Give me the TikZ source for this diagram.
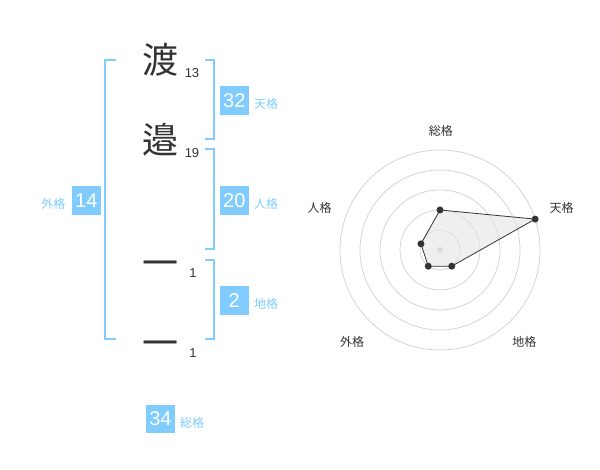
\documentclass[tikz,border=0pt]{standalone}
\usepackage{fontspec}
\usetikzlibrary{calc}
\setmainfont{Liberation Sans}
\newfontfamily\jp{Noto Sans CJK JP}
\definecolor{sky}{HTML}{80CCFF}
\definecolor{ink}{HTML}{333333}
\definecolor{ring}{HTML}{D0D0D0}
\begin{document}
\begin{tikzpicture}[x=1pt,y=-1pt,
  kanji/.style={inner sep=0pt,text=ink,font=\jp\fontsize{36}{36}\selectfont},
  stroke/.style={inner sep=0pt,text=ink,font=\fontsize{13}{13}\selectfont},
  numbox/.style={fill=sky,text=white,minimum width=28.7pt,minimum height=28.7pt,inner sep=0pt,font=\fontsize{20}{20}\selectfont},
  kaku/.style={text=sky,inner sep=0pt,font=\jp\fontsize{12}{12}\selectfont},
  brk/.style={draw=sky,line width=2pt},
  axlabel/.style={text=ink,inner sep=0pt,font=\jp\fontsize{12}{12}\selectfont},
  dot/.style={circle,fill=ink,inner sep=0pt,minimum size=7pt}]
\useasboundingbox (0,0) rectangle (600,470);
% characters
\node[kanji] (c1) at (160,60) {渡};
\node[kanji] (c2) at (160,140) {邉};
\node[kanji] (c3) at (160,269) {一};
\node[kanji] (c4) at (160,349) {一};
\node[stroke] (s1) at (192,73) {13};
\node[stroke] (s2) at (192,153) {19};
\node[stroke] (s3) at (193,273) {1};
\node[stroke] (s4) at (193,353) {1};
% brackets
\draw[brk] (116,60) -- (105,60) -- (105,339.3) -- (116,339.3);
\draw[brk] (205,60) -- (214.3,60) -- (214.3,139.3) -- (205,139.3);
\draw[brk] (205,149.3) -- (214.3,149.3) -- (214.3,249.3) -- (205,249.3);
\draw[brk] (205,260) -- (214.3,260) -- (214.3,339.3) -- (205,339.3);
% boxes
\node[numbox] (ten) at (234.3,100.3) {32};
\node[kaku] (tenl) at (266,104) {天格};
\node[numbox] (jin) at (234.3,200.3) {20};
\node[kaku] (jinl) at (266,204) {人格};
\node[numbox] (chi) at (234.3,300.3) {2};
\node[kaku] (chil) at (266,304) {地格};
\node[numbox] (gai) at (86.3,200.3) {14};
\node[kaku] (gail) at (53.3,204) {外格};
\node[numbox] (sou) at (160.5,419) {34};
\node[kaku] (soul) at (192,422.7) {総格};
% radar
\coordinate (o) at (440,250);
\foreach \r in {20,40,60,80,100}
  \draw[ring,line width=0.7pt] (o) circle[radius=\r];
\fill[ring] (o) circle[radius=3.2];
\coordinate (pS) at ($(o)+(-90:40)$);
\coordinate (pT) at ($(o)+(-18:100)$);
\coordinate (pC) at ($(o)+(54:20)$);
\coordinate (pG) at ($(o)+(126:20)$);
\coordinate (pJ) at ($(o)+(198:20)$);
\filldraw[fill=gray!20,fill opacity=0.6,draw=ink,line width=0.8pt] (pS) -- (pT) -- (pC) -- (pG) -- (pJ) -- cycle;
\foreach \p in {pS,pT,pC,pG,pJ} \node[dot] at (\p) {};
\node[axlabel] (aS) at (440.8,130.7) {総格};
\node[axlabel] (aT) at (561.7,208.3) {天格};
\node[axlabel] (aC) at (524.3,341.7) {地格};
\node[axlabel] (aG) at (352,341.7) {外格};
\node[axlabel] (aJ) at (319.5,208.3) {人格};
\end{tikzpicture}
\end{document}
